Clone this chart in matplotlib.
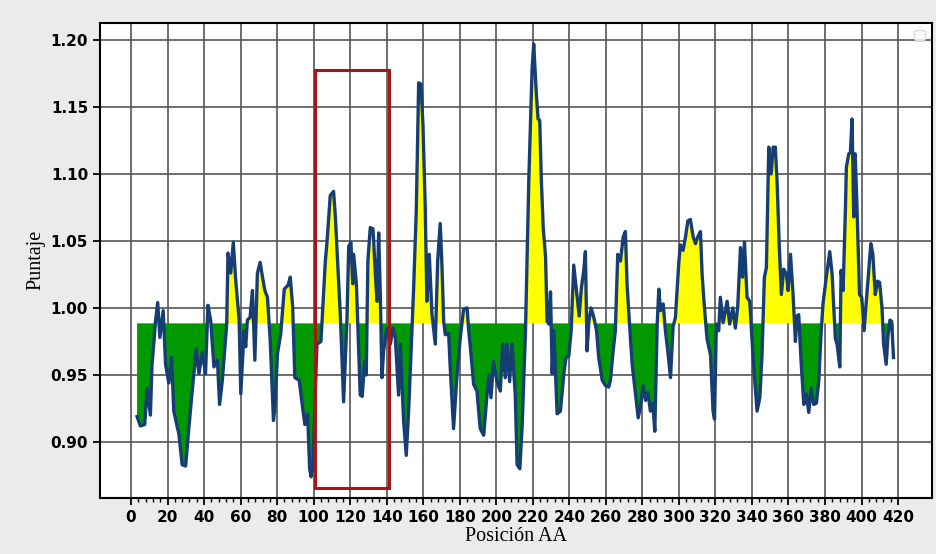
import matplotlib.pyplot as plt
from matplotlib.patches import Rectangle
import numpy as np

# Perfil de puntaje por posicion
posicion = [3.3, 5.1, 7.5, 8.8, 10.6, 11.5, 12.5, 13.4, 14.6, 15.8, 17.6, 18.9, 20.7, 22.2, 23.4,
            26.2, 28.0, 29.9, 31.7, 33.5, 35.7, 37.2, 39.0, 40.8, 42.1, 43.6, 45.4, 47.3, 48.5,
            50.0, 52.4, 53.1, 54.6, 56.0, 57.3, 59.2, 60.1, 61.9, 62.8, 63.7, 65.2, 66.5, 67.8,
            69.2, 70.7, 72.0, 73.3, 74.7, 76.2, 78.0, 78.8, 80.2, 82.0, 83.9, 86.0, 87.2, 88.5,
            89.7, 92.1, 93.9, 95.2, 96.7, 97.8, 98.6, 99.6, 101.8, 104.0, 106.4, 107.3, 109.1,
            110.9, 111.9, 112.8, 114.6, 116.4, 118.2, 119.2, 120.4, 121.4, 121.9, 123.4, 124.1,
            125.5, 126.6, 127.9, 128.8, 129.7, 131.0, 132.5, 133.8, 134.7, 135.6, 136.5, 137.4,
            138.3, 140.1, 142.0, 143.4, 144.7, 146.5, 147.4, 149.3, 150.7, 152.0, 154.7, 156.2,
            157.5, 158.8, 159.9, 161.1, 162.0, 163.3, 164.8, 166.6, 167.9, 169.3, 170.3, 171.2,
            172.1, 173.9, 174.8, 176.6, 178.5, 180.3, 182.1, 184.0, 184.9, 185.8, 187.6, 189.4,
            191.2, 193.1, 194.9, 196.0, 197.1, 198.5, 200.4, 202.2, 203.6, 204.9, 205.8, 207.3,
            208.6, 210.4, 211.4, 212.9, 214.2, 216.0, 217.8, 219.6, 220.5, 222.0, 222.9, 223.8,
            224.6, 225.7, 227.0, 227.8, 228.8, 229.7, 230.6, 231.5, 233.3, 235.1, 237.0, 238.2,
            239.7, 241.0, 242.4, 243.9, 245.4, 246.6, 247.9, 248.8, 249.7, 250.7, 251.9, 253.4,
            254.9, 256.1, 258.0, 259.8, 261.6, 262.5, 264.0, 265.2, 266.5, 268.0, 269.5, 270.7,
            271.6, 272.9, 274.4, 276.2, 277.7, 278.9, 280.4, 281.7, 283.0, 284.4, 285.7, 286.8,
            288.1, 289.0, 289.9, 291.4, 292.6, 293.9, 295.4, 296.8, 298.1, 299.9, 300.8, 302.3,
            303.6, 304.9, 306.3, 307.8, 309.1, 310.3, 311.8, 312.7, 314.0, 315.4, 317.3, 318.7,
            319.5, 320.5, 321.8, 322.7, 324.2, 326.4, 327.8, 329.5, 330.9, 332.2, 333.7, 334.8,
            335.9, 337.3, 338.8, 340.1, 341.4, 342.8, 344.3, 345.5, 346.8, 347.9, 349.2, 350.5,
            351.6, 352.8, 353.8, 354.9, 356.1, 357.4, 358.9, 359.8, 361.1, 362.5, 363.8, 364.7,
            365.6, 366.9, 368.4, 369.8, 371.1, 372.4, 373.8, 375.3, 376.6, 377.8, 378.9, 380.7,
            382.6, 383.9, 384.8, 385.7, 386.6, 388.1, 388.8, 389.9, 391.2, 391.7, 393.0, 393.9,
            394.8, 395.7, 396.5, 397.4, 398.9, 400.1, 401.4, 402.5, 403.8, 405.1, 406.2, 407.5,
            408.8, 409.9, 411.2, 412.1, 413.5, 414.5, 415.6, 416.5, 417.5]
puntaje = [0.919, 0.912, 0.913, 0.940, 0.920, 0.958, 0.974, 0.990, 1.004, 0.978, 0.998, 0.958,
           0.944, 0.963, 0.923, 0.906, 0.883, 0.882, 0.911, 0.938, 0.969, 0.951, 0.967, 0.951,
           1.002, 0.991, 0.956, 0.961, 0.928, 0.946, 0.988, 1.041, 1.026, 1.049, 1.021, 0.991,
           0.936, 0.983, 0.971, 0.991, 0.993, 1.013, 0.961, 1.026, 1.034, 1.023, 1.013, 1.008,
           0.976, 0.916, 0.926, 0.966, 0.981, 1.014, 1.017, 1.023, 1.001, 0.948, 0.946, 0.926,
           0.913, 0.921, 0.880, 0.874, 0.882, 0.973, 0.975, 1.035, 1.049, 1.084, 1.087, 1.068,
           1.043, 0.995, 0.930, 0.990, 1.046, 1.049, 1.018, 1.040, 1.018, 0.990, 0.935, 0.934,
           0.960, 0.950, 1.035, 1.060, 1.059, 1.025, 1.005, 1.056, 1.010, 0.948, 0.968, 0.985,
           0.973, 0.985, 0.978, 0.935, 0.973, 0.915, 0.890, 0.923, 1.013, 1.073, 1.168, 1.167,
           1.135, 1.075, 1.005, 1.040, 0.995, 0.973, 1.035, 1.063, 1.030, 0.990, 0.980, 0.981,
           0.955, 0.910, 0.950, 0.978, 0.999, 1.000, 0.983, 0.971, 0.943, 0.938, 0.910, 0.905,
           0.935, 0.950, 0.933, 0.960, 0.945, 0.938, 0.973, 0.948, 0.973, 0.945, 0.973, 0.935,
           0.883, 0.880, 0.913, 0.983, 1.095, 1.178, 1.197, 1.158, 1.141, 1.140, 1.098, 1.060,
           1.038, 0.990, 0.988, 1.012, 0.951, 0.983, 0.921, 0.923, 0.951, 0.963, 0.964, 0.983,
           1.032, 1.013, 0.994, 1.015, 1.028, 1.042, 0.968, 0.990, 1.000, 0.993, 0.983, 0.963,
           0.946, 0.942, 0.941, 0.946, 0.968, 0.983, 1.040, 1.035, 1.053, 1.057, 1.018, 0.989,
           0.958, 0.936, 0.918, 0.926, 0.942, 0.931, 0.937, 0.923, 0.929, 0.908, 0.988, 1.014,
           0.998, 1.003, 0.983, 0.968, 0.948, 0.986, 0.993, 1.033, 1.047, 1.043, 1.053, 1.065,
           1.066, 1.053, 1.048, 1.053, 1.057, 1.025, 1.000, 0.977, 0.965, 0.923, 0.917, 0.988,
           0.983, 1.008, 0.989, 1.005, 0.988, 1.000, 0.985, 1.001, 1.045, 1.023, 1.049, 1.008,
           1.005, 0.975, 0.948, 0.923, 0.933, 0.965, 1.023, 1.030, 1.120, 1.100, 1.120, 1.120,
           1.093, 1.048, 1.010, 1.029, 1.025, 1.013, 1.040, 1.010, 0.975, 0.994, 0.995, 0.960,
           0.928, 0.936, 0.922, 0.940, 0.928, 0.929, 0.946, 0.980, 1.003, 1.023, 1.042, 1.025,
           1.000, 0.977, 0.973, 0.956, 1.028, 1.013, 1.075, 1.105, 1.115, 1.116, 1.141, 1.068,
           1.115, 1.080, 1.010, 1.008, 0.983, 1.003, 1.025, 1.048, 1.040, 1.010, 1.020, 1.019,
           1.000, 0.973, 0.958, 0.980, 0.991, 0.990, 0.963]

umbral = 0.9885
region_x = [101, 141]
region_y = [0.8655, 1.1775]

x = np.array(posicion)
y = np.array(puntaje)

fig = plt.figure(figsize=(9.37, 5.54), dpi=100, facecolor='#ebebeb')
ax = fig.add_axes([0.1067, 0.1016, 0.888, 0.8575])

# Relleno por encima / por debajo del umbral
ax.fill_between(x, y, umbral, where=y >= umbral, interpolate=True, color='#ffff00', linewidth=0)
ax.fill_between(x, y, umbral, where=y < umbral, interpolate=True, color='#009900', linewidth=0)
ax.plot(x, y, color='#163e74', linewidth=2.4)

# Region destacada
rect = Rectangle((region_x[0], region_y[0]), region_x[1] - region_x[0], region_y[1] - region_y[0],
                 fill=False, edgecolor='#a01818', linewidth=2.2, zorder=5)
ax.add_patch(rect)

ax.set_xlim(-17, 438.6)
ax.set_ylim(0.8584, 1.2129)
ax.set_xticks(np.arange(0, 421, 20))
ax.set_xticks(np.arange(0, 421, 4), minor=True)
ax.set_yticks([0.90, 0.95, 1.00, 1.05, 1.10, 1.15, 1.20])
ax.set_yticklabels(['0.90', '0.95', '1.00', '1.05', '1.10', '1.15', '1.20'])
ax.grid(True, which='major', color='#555555', linewidth=1.2)
ax.set_axisbelow(True)
ax.tick_params(axis='both', which='major', labelsize=11, width=1.3, length=5)
ax.tick_params(axis='x', which='minor', width=1.0, length=3)
for lab in ax.get_xticklabels() + ax.get_yticklabels():
    lab.set_fontweight('bold')
for sp in ax.spines.values():
    sp.set_linewidth(1.5)
    sp.set_color('black')

ax.set_xlabel('Posición AA', family='Liberation Serif', fontsize=14.5, labelpad=2)
ax.set_ylabel('Puntaje', family='Liberation Serif', fontsize=14.5)
ax.legend(handles=[], loc='upper right')

fig.savefig('out.png', dpi=100, facecolor=fig.get_facecolor())
